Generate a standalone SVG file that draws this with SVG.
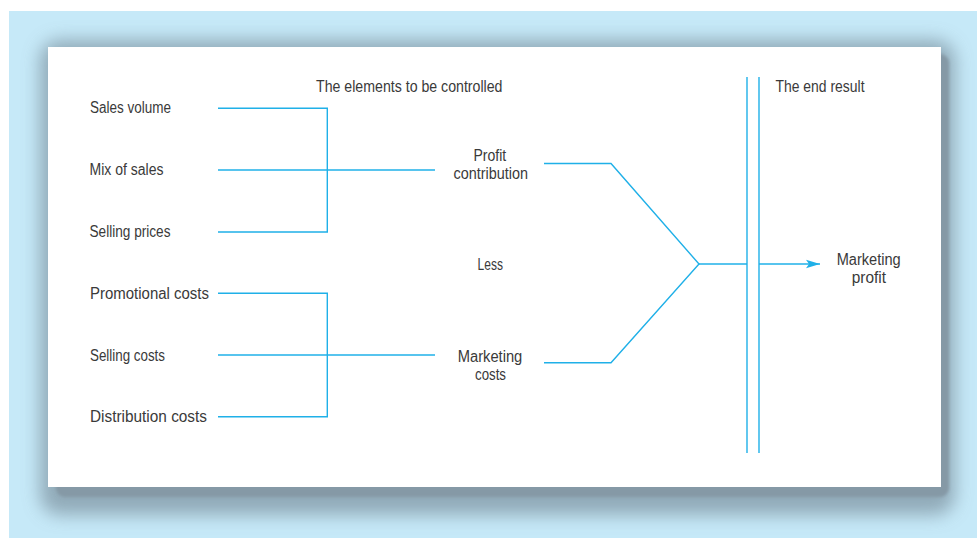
<svg xmlns="http://www.w3.org/2000/svg" width="977" height="538" viewBox="0 0 977 538">
<defs>
<style>
.t{font-family:"Liberation Sans",Arial,sans-serif;font-size:16px;fill:#3a3a3a}
.c{fill:none;stroke:#1fb0e8;stroke-width:1.4}
</style>
<filter id="halo" x="-10%" y="-20%" width="120%" height="140%"><feGaussianBlur stdDeviation="9"/></filter>
<filter id="soft" x="-5%" y="-5%" width="110%" height="110%"><feGaussianBlur stdDeviation="1.5"/></filter>
<marker id="arr" markerWidth="16" markerHeight="10" refX="14" refY="5" orient="auto" markerUnits="userSpaceOnUse">
<path d="M0,0.8 L14,5 L0,9.2 L3,5 Z" fill="#1fb0e8"/>
</marker>
</defs>
<rect x="0" y="0" width="977" height="538" fill="#ffffff"/>
<rect x="9" y="11" width="968" height="527" fill="#c6e9f8"/>
<rect x="40" y="40" width="915" height="475" rx="20" fill="#7f95a3" opacity="0.75" filter="url(#halo)"/>
<rect x="56" y="54" width="893" height="443" rx="9" fill="#8599a6" filter="url(#soft)"/>
<rect x="48" y="47" width="893" height="440" fill="#ffffff"/>

<g id="connectors">
<polyline class="c" points="218,108.3 327.3,108.3 327.3,232 218,232"/>
<line class="c" x1="218" y1="170" x2="435" y2="170"/>
<polyline class="c" points="218,293.3 327.3,293.3 327.3,416.7 218,416.7"/>
<line class="c" x1="218" y1="355" x2="435" y2="355"/>
<polyline class="c" points="544,163.5 611,163.5 699,264 611,362.7 544,362.7"/>
<line class="c" x1="699" y1="264" x2="747" y2="264"/>
<line class="c" x1="747" y1="77" x2="747" y2="453"/>
<line class="c" x1="759" y1="77" x2="759" y2="453"/>
<line class="c" x1="759" y1="264" x2="820" y2="264" marker-end="url(#arr)"/>
</g>

<g id="sales-volume"><text class="t" x="90" y="113.3" textLength="81" lengthAdjust="spacingAndGlyphs">Sales volume</text></g>
<g id="mix-of-sales"><text class="t" x="89.5" y="175" textLength="74" lengthAdjust="spacingAndGlyphs">Mix of sales</text></g>
<g id="selling-prices"><text class="t" x="89.5" y="237" textLength="81" lengthAdjust="spacingAndGlyphs">Selling prices</text></g>
<g id="promotional-costs"><text class="t" x="90" y="299" textLength="119" lengthAdjust="spacingAndGlyphs">Promotional costs</text></g>
<g id="selling-costs"><text class="t" x="90" y="361" textLength="75" lengthAdjust="spacingAndGlyphs">Selling costs</text></g>
<g id="distribution-costs"><text class="t" x="90" y="422" textLength="117" lengthAdjust="spacingAndGlyphs">Distribution costs</text></g>

<g id="elements-heading"><text class="t" x="316" y="91.7" textLength="186.5" lengthAdjust="spacingAndGlyphs">The elements to be controlled</text></g>
<g id="end-result-heading"><text class="t" x="775.5" y="91.7" textLength="89" lengthAdjust="spacingAndGlyphs">The end result</text></g>

<g id="profit-contribution">
<text class="t" x="473.5" y="160.7" textLength="32.7" lengthAdjust="spacingAndGlyphs">Profit</text>
<text class="t" x="453.5" y="179" textLength="74.4" lengthAdjust="spacingAndGlyphs">contribution</text>
</g>
<g id="less"><text class="t" x="477.5" y="270" textLength="25.4" lengthAdjust="spacingAndGlyphs">Less</text></g>
<g id="marketing-costs">
<text class="t" x="457.7" y="361.7" textLength="64.6" lengthAdjust="spacingAndGlyphs">Marketing</text>
<text class="t" x="475" y="380" textLength="31" lengthAdjust="spacingAndGlyphs">costs</text>
</g>
<g id="marketing-profit">
<text class="t" x="836.7" y="265" textLength="64" lengthAdjust="spacingAndGlyphs">Marketing</text>
<text class="t" x="851.7" y="282.5" textLength="34.3" lengthAdjust="spacingAndGlyphs">profit</text>
</g>
</svg>
